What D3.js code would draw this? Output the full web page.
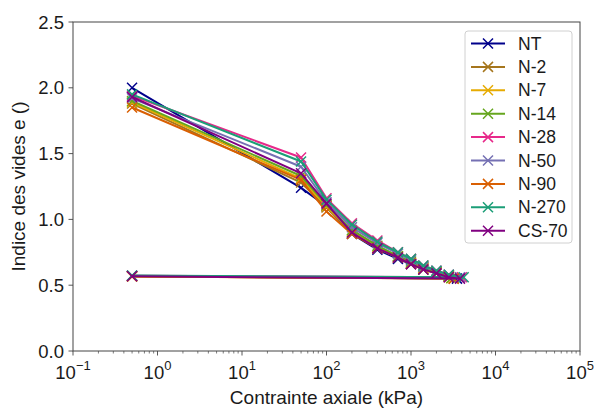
<!DOCTYPE html>
<html><head><meta charset="utf-8">
<script src="https://cdn.jsdelivr.net/npm/d3@7"></script>
<style>body{margin:0;background:#fff}text{font-family:"Liberation Sans",Arial,sans-serif}</style>
</head><body><svg id="c" width="594" height="409"></svg>
<script>
// loading steps (kPa) followed by unloading back to 0.5 kPa
const seriesNames = ["NT","N-2","N-7","N-14","N-28","N-50","N-90","N-270","CS-70"];
const seriesColors = ["#00008b","#a6761d","#e6ab02","#66a61e","#e7298a","#7570b3","#d95f02","#1b9e77","#800080"];
const stressBase = [0.5, 50, 100, 200, 400, 700, 1000, 1400, 2000, 2800];
const lastStress = [3500, 3200, 3000, 3000, 4000, 3800, 3200, 4200, 3800];
const eNT   = [2.00, 1.24, 1.10, 0.89, 0.77, 0.70, 0.66, 0.62, 0.59, 0.565, 0.55, 0.570];
const eN2   = [1.88, 1.28, 1.09, 0.90, 0.78, 0.71, 0.67, 0.63, 0.60, 0.57, 0.55, 0.568];
const eN7   = [1.89, 1.31, 1.10, 0.91, 0.79, 0.72, 0.67, 0.63, 0.60, 0.57, 0.553, 0.566];
const eN14  = [1.90, 1.33, 1.11, 0.92, 0.80, 0.72, 0.68, 0.64, 0.60, 0.57, 0.555, 0.570];
const eN28  = [1.94, 1.47, 1.16, 0.97, 0.84, 0.75, 0.70, 0.65, 0.61, 0.58, 0.56, 0.572];
const eN50  = [1.92, 1.40, 1.13, 0.94, 0.82, 0.74, 0.69, 0.64, 0.61, 0.58, 0.56, 0.571];
const eN90  = [1.85, 1.30, 1.06, 0.89, 0.78, 0.71, 0.66, 0.62, 0.59, 0.56, 0.55, 0.567];
const eN270 = [1.95, 1.44, 1.15, 0.96, 0.83, 0.75, 0.70, 0.65, 0.61, 0.58, 0.56, 0.574];
const eCS70 = [1.93, 1.35, 1.12, 0.90, 0.78, 0.71, 0.66, 0.62, 0.59, 0.56, 0.55, 0.568];
const seriesE = [eNT,eN2,eN7,eN14,eN28,eN50,eN90,eN270,eCS70];
const xTicks = [-1,0,1,2,3,4,5];
const yTicks = [0,0.5,1.0,1.5,2.0,2.5];

const svg = d3.select("#c");
const L=73, R=580, T=22, B=351;
const x = d3.scaleLog().domain([0.1,1e5]).range([L,R]);
const y = d3.scaleLinear().domain([0,2.5]).range([B,T]);
const axisColor="#444";
const txt="#1a1a1a";

// minor ticks
const minors=[];
for(let d=-1; d<5; d++) for(let k=2;k<10;k++) minors.push(k*Math.pow(10,d));
svg.selectAll("line.minor").data(minors).enter().append("line")
  .attr("x1",d=>x(d)).attr("x2",d=>x(d)).attr("y1",B).attr("y2",B+2.5)
  .attr("stroke",axisColor).attr("stroke-width",0.7);
// major x ticks
const gx = svg.append("g");
xTicks.forEach(p=>{
  const xp = x(Math.pow(10,p));
  gx.append("line").attr("x1",xp).attr("x2",xp).attr("y1",B).attr("y2",B+4.5).attr("stroke",axisColor).attr("stroke-width",0.9);
  const t = gx.append("text").attr("x",xp).attr("y",B+28).attr("text-anchor","middle").attr("font-size",18.5).attr("fill",txt);
  t.append("tspan").text("10");
  t.append("tspan").attr("dy",-9).attr("font-size",13).text(p<0?"\u2212"+Math.abs(p):String(p));
});
// y ticks
yTicks.forEach(v=>{
  const yp=y(v);
  svg.append("line").attr("x1",L-4.5).attr("x2",L).attr("y1",yp).attr("y2",yp).attr("stroke",axisColor).attr("stroke-width",0.9);
  svg.append("text").attr("x",L-9).attr("y",yp+6.6).attr("text-anchor","end").attr("font-size",18.5).attr("fill",txt).text(v.toFixed(1));
});
// frame
svg.append("rect").attr("x",L).attr("y",T).attr("width",R-L).attr("height",B-T).attr("fill","none").attr("stroke",axisColor).attr("stroke-width",1);

// axis titles
svg.append("text").attr("x",(L+R)/2).attr("y",404).attr("text-anchor","middle").attr("font-size",19).attr("fill",txt).text("Contrainte axiale (kPa)");
svg.append("text").attr("transform","translate(25,"+((T+B)/2)+") rotate(-90)").attr("text-anchor","middle").attr("font-size",19).attr("fill",txt).text("Indice des vides e ()");

// series
const line = d3.line().x(d=>x(d[0])).y(d=>y(d[1]));
const g = svg.append("g");
function cross(sel,cx,cy,c,s){
  sel.append("path").attr("d",`M${cx-s},${cy-s}L${cx+s},${cy+s}M${cx-s},${cy+s}L${cx+s},${cy-s}`)
    .attr("stroke",c).attr("stroke-width",1.5).attr("fill","none");
}
seriesNames.forEach((n,i)=>{
  const st = stressBase.concat([lastStress[i], 0.5]);
  const pts = st.map((s,j)=>[s, seriesE[i][j]]);
  g.append("path").datum(pts).attr("d",line).attr("fill","none").attr("stroke",seriesColors[i]).attr("stroke-width",2).attr("stroke-linejoin","round");
  pts.forEach(p=>cross(g,x(p[0]),y(p[1]),seriesColors[i],5));
});

// legend
const lg = svg.append("g");
lg.append("rect").attr("x",465).attr("y",31).attr("width",107).attr("height",212).attr("rx",3)
  .attr("fill","#fff").attr("fill-opacity",0.8).attr("stroke","#d0d0d0").attr("stroke-width",1);
seriesNames.forEach((n,i)=>{
  const yy = 43.5 + i*23.4;
  lg.append("line").attr("x1",471).attr("x2",505).attr("y1",yy).attr("y2",yy).attr("stroke",seriesColors[i]).attr("stroke-width",2);
  cross(lg,488,yy,seriesColors[i],5);
  lg.append("text").attr("x",518).attr("y",yy+6).attr("font-size",17.5).attr("fill",txt).text(n);
});
</script></body></html>
